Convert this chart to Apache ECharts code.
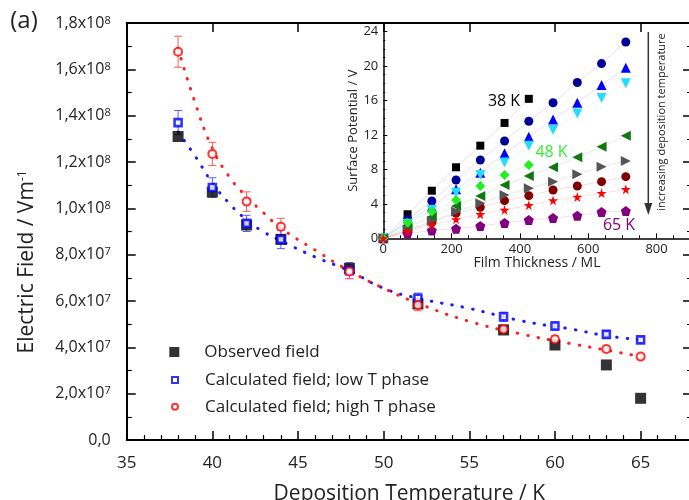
<!DOCTYPE html>
<html><head><meta charset="utf-8">
<script src="https://cdn.jsdelivr.net/npm/echarts@6/dist/echarts.min.js"></script>
<style>html,body{margin:0;padding:0;background:#fff}#c{width:689px;height:500px}</style>
</head><body><div id="c"></div>
<script>
// ---- main panel data ----
const temps = [38, 40, 42, 44, 48, 52, 57, 60, 63, 65];
const observed = [1.31e8, 1.07e8, 9.28e7, 8.66e7, 7.41e7, 5.87e7, 4.75e7, 4.10e7, 3.24e7, 1.80e7];
const lowT = [1.37e8, 1.09e8, 9.35e7, 8.66e7, 7.31e7, 6.12e7, 5.32e7, 4.92e7, 4.56e7, 4.32e7];
const lowTErr = [5.2e6, 4.2e6, 3.5e6, 4.0e6, 3.5e6, 2.2e6, 2.0e6, 1.8e6, 1.6e6, 1.3e6];
const highT = [1.676e8, 1.235e8, 1.029e8, 9.21e7, 7.27e7, 5.83e7, 4.78e7, 4.35e7, 3.93e7, 3.60e7];
const highTErr = [6.7e6, 5.0e6, 4.2e6, 3.6e6, 3.0e6, 2.5e6, 1.8e6, 1.5e6, 1.2e6, 1.0e6];
const fitT = [38, 39, 40, 41, 42, 43, 44, 46, 48, 50, 52, 55, 58, 61, 63, 65];
const lowTFit = [1.33e8, 1.225e8, 1.11e8, 1.02e8, 9.5e7, 8.98e7, 8.6e7, 7.9e7, 7.3e7, 6.55e7, 6.12e7, 5.68e7, 5.15e7, 4.78e7, 4.5e7, 4.32e7];
const highTFit = [1.69e8, 1.455e8, 1.26e8, 1.135e8, 1.05e8, 9.8e7, 9.15e7, 8.2e7, 7.3e7, 6.55e7, 5.9e7, 5.12e7, 4.58e7, 4.15e7, 3.88e7, 3.6e7];
const legendNames = ['Observed field', 'Calculated field; low T phase', 'Calculated field; high T phase'];

// ---- inset data ----
const thickness = [0, 71, 142, 213, 284, 355, 426, 497, 568, 639, 710];
const insetNames = ['38 K', '40 K', '42 K', '44 K', '48 K', '52 K', '57 K', '60 K', '63 K', '65 K'];
const v38 = [0, 2.79, 5.53, 8.25, 10.76, 13.4, 16.2];
const v40 = [0, 2.2, 4.33, 6.77, 9.1, 11.3, 13.6, 15.75, 18.1, 20.3, 22.8];
const v42 = [0, 1.9, 3.67, 5.69, 7.62, 9.87, 11.8, 13.8, 15.75, 17.8, 19.8];
const v44 = [0, 1.7, 3.3, 5.3, 7.35, 8.8, 10.76, 12.58, 14.5, 16.3, 18.0];
const v48 = [0, 1.8, 3.1, 4.45, 6.08, 7.35, 8.52];
const v52 = [0, 1.3, 2.5, 3.75, 4.9, 6.19, 7.24, 8.25, 9.41, 10.64, 11.92];
const v57 = [0, 1.0, 2.0, 3.1, 4.06, 5.03, 5.8, 6.58, 7.43, 8.32, 8.98];
const v60 = [0, 0.9, 1.85, 2.9, 3.6, 4.37, 4.95, 5.61, 6.08, 6.58, 7.16];
const v63 = [0, 0.8, 1.6, 2.2, 2.8, 3.3, 3.85, 4.4, 4.8, 5.25, 5.7];
const v65 = [0, 0.55, 0.92, 1.12, 1.43, 1.78, 2.13, 2.36, 2.63, 3.06, 3.17];
const insetValues = [v38, v40, v42, v44, v48, v52, v57, v60, v63, v65];
const insetLabels = ['38 K', '48 K', '65 K'];

const FONT = '"Open Sans", "DejaVu Sans", sans-serif';
const TXT = '#222';
const STAR = 'path://M50,0 L61,35 L98,35 L68,57 L79,91 L50,70 L21,91 L32,57 L2,35 L39,35 Z';
const PENT = 'path://M50,0 L98,36 L80,95 L20,95 L2,36 Z';
const insetStyles = [
  {c: '#000000', s: 'rect', z: 8, r: 0},
  {c: '#000096', s: 'circle', z: 9, r: 0},
  {c: '#0000ff', s: 'triangle', z: 10, r: 0},
  {c: '#22ddff', s: 'triangle', z: 10, r: 180},
  {c: '#22ee22', s: 'diamond', z: 11, r: 0},
  {c: '#117711', s: 'triangle', z: 10, r: 90},
  {c: '#555555', s: 'triangle', z: 10, r: -90},
  {c: '#800000', s: 'circle', z: 9, r: 0},
  {c: '#ff0000', s: STAR, z: 11, r: 0},
  {c: '#800080', s: PENT, z: 10, r: 0}
];

const fmtY = v => {
  if (v === 0) return '0,0';
  const e = Math.floor(Math.log10(v) + 1e-9);
  const m = v / Math.pow(10, e);
  return m.toFixed(1).replace('.', ',') + 'x10{sup|' + e + '}';
};

function errSeries(vals, errs, color) {
  return {
    type: 'custom', xAxisIndex: 0, yAxisIndex: 0, silent: true, z: 3,
    data: temps.map((t, i) => [t, vals[i] - errs[i], vals[i] + errs[i]]),
    renderItem(params, api) {
      const x = api.value(0);
      const lo = api.coord([x, api.value(1)]);
      const hi = api.coord([x, api.value(2)]);
      const w = 4;
      const st = {stroke: color, lineWidth: 1, fill: null};
      return {type: 'group', children: [
        {type: 'line', shape: {x1: lo[0], y1: lo[1], x2: hi[0], y2: hi[1]}, style: st},
        {type: 'line', shape: {x1: lo[0] - w, y1: lo[1], x2: lo[0] + w, y2: lo[1]}, style: st},
        {type: 'line', shape: {x1: hi[0] - w, y1: hi[1], x2: hi[0] + w, y2: hi[1]}, style: st}
      ]};
    }
  };
}

const mainAxisLine = {show: true, onZero: false, lineStyle: {color: '#000', width: 2}};
const series = [
  {type: 'line', xAxisIndex: 0, yAxisIndex: 0, data: fitT.map((t, i) => [t, lowTFit[i]]), smooth: true, showSymbol: false, silent: true, z: 2,
   lineStyle: {color: '#1a1aff', width: 3, type: [0.5, 10], cap: 'round'}},
  {type: 'line', xAxisIndex: 0, yAxisIndex: 0, data: fitT.map((t, i) => [t, highTFit[i]]), smooth: true, showSymbol: false, silent: true, z: 2,
   lineStyle: {color: '#ff2020', width: 3, type: [0.5, 10], cap: 'round'}},
  errSeries(lowT, lowTErr, '#5a5aff'),
  errSeries(highT, highTErr, '#ff5a5a'),
  {name: legendNames[0], type: 'scatter', xAxisIndex: 0, yAxisIndex: 0, data: temps.map((t, i) => [t, observed[i]]),
   symbol: 'rect', symbolSize: 11, itemStyle: {color: '#000'}, z: 4},
  {name: legendNames[1], type: 'scatter', xAxisIndex: 0, yAxisIndex: 0, data: temps.map((t, i) => [t, lowT[i]]),
   symbol: 'rect', symbolSize: 7, itemStyle: {color: '#fff', borderColor: '#0000ff', borderWidth: 2.6}, z: 5},
  {name: legendNames[2], type: 'scatter', xAxisIndex: 0, yAxisIndex: 0, data: temps.map((t, i) => [t, highT[i]]),
   symbol: 'circle', symbolSize: 8, itemStyle: {color: '#fff', borderColor: '#ff0000', borderWidth: 2}, z: 6}
];
insetValues.forEach((vals, k) => {
  const st = insetStyles[k];
  series.push({
    name: insetNames[k], type: 'line', xAxisIndex: 2, yAxisIndex: 2, z: st.z,
    data: vals.map((v, i) => [thickness[i], v]),
    symbol: st.s, symbolRotate: st.r, symbolSize: st.s === 'rect' ? 8 : (st.s === 'circle' ? 9 : 10),
    showSymbol: true, showAllSymbol: true,
    itemStyle: {color: st.c},
    lineStyle: {color: st.c, width: 1, opacity: 0.12}
  });
});

const legendCommon = {orient: 'vertical', selectedMode: false, textStyle: {fontFamily: FONT, fontSize: 17, color: TXT, lineHeight: 20}};

const option = {
  animation: false,
  backgroundColor: '#fff',
  textStyle: {fontFamily: FONT},
  grid: [
    {left: 126.7, top: 23, width: 565.3, height: 417, outerBoundsMode: 'none', containLabel: false},
    {left: 383.3, top: 23.1, width: 307.4, height: 215.2, outerBoundsMode: 'none', containLabel: false}
  ],
  legend: [
    Object.assign({}, legendCommon, {left: 164.3, top: 337, itemWidth: 10, itemHeight: 10,
      data: [{name: legendNames[0], icon: 'rect', itemStyle: {color: '#000'}}],
      textStyle: Object.assign({}, legendCommon.textStyle, {padding: [0, 0, 0, 20]})}),
    Object.assign({}, legendCommon, {left: 166, top: 365, itemWidth: 6, itemHeight: 6,
      data: [{name: legendNames[1], icon: 'rect', itemStyle: {color: '#fff', borderColor: '#0000ff', borderWidth: 2}}],
      textStyle: Object.assign({}, legendCommon.textStyle, {padding: [0, 0, 0, 22]})}),
    Object.assign({}, legendCommon, {left: 166, top: 391.7, itemWidth: 6, itemHeight: 6,
      data: [{name: legendNames[2], icon: 'circle', itemStyle: {color: '#fff', borderColor: '#ff0000', borderWidth: 2}}],
      textStyle: Object.assign({}, legendCommon.textStyle, {padding: [0, 0, 0, 22]})})
  ],
  xAxis: [
    {type: 'value', gridIndex: 0, min: 35, max: 68, interval: 5, position: 'bottom',
     axisLine: mainAxisLine, splitLine: {show: false},
     axisTick: {inside: true, length: 9, lineStyle: {color: '#000', width: 1.5}},
     minorTick: {show: true, splitNumber: 5, length: 5, lineStyle: {color: '#000', width: 1.2}},
     axisLabel: {fontSize: 17, color: TXT, margin: 15, fontFamily: FONT, showMaxLabel: false},
     name: 'Deposition Temperature / K', nameLocation: 'middle', nameGap: 44,
     nameTextStyle: {fontSize: 21, color: TXT, fontFamily: FONT}},
    {type: 'value', gridIndex: 0, min: 35, max: 68, interval: 5, position: 'top',
     axisLine: mainAxisLine, splitLine: {show: false},
     axisTick: {inside: true, length: 9, lineStyle: {color: '#000', width: 1.5}},
     axisLabel: {show: false}},
    {type: 'value', gridIndex: 1, min: 0, max: 900, interval: 200, position: 'bottom',
     axisLine: {show: true, onZero: false, lineStyle: {color: '#000', width: 1.5}}, splitLine: {show: false},
     axisTick: {inside: true, length: 5, lineStyle: {color: '#000', width: 1}},
     minorTick: {show: true, splitNumber: 4, length: 3, lineStyle: {color: '#000', width: 1}},
     axisLabel: {fontSize: 13, color: TXT, margin: 4, fontFamily: FONT, showMaxLabel: false},
     name: 'Film Thickness / ML', nameLocation: 'middle', nameGap: 17,
     nameTextStyle: {fontSize: 14, color: TXT, fontFamily: FONT}}
  ],
  yAxis: [
    {type: 'value', gridIndex: 0, min: 0, max: 1.8e8, interval: 2e7, position: 'left',
     axisLine: mainAxisLine, splitLine: {show: false},
     axisTick: {inside: true, length: 9, lineStyle: {color: '#000', width: 1.5}},
     minorTick: {show: true, splitNumber: 2, length: 5, lineStyle: {color: '#000', width: 1.2}},
     axisLabel: {fontSize: 16, color: TXT, margin: 16, fontFamily: FONT, formatter: fmtY,
       rich: {sup: {fontSize: 11, verticalAlign: 'top', color: TXT, fontFamily: FONT}}}},
    {type: 'value', gridIndex: 0, min: 0, max: 1.8e8, interval: 2e7, position: 'right',
     axisLine: mainAxisLine, splitLine: {show: false},
     axisTick: {inside: true, length: 9, lineStyle: {color: '#000', width: 1.5}},
     minorTick: {show: true, splitNumber: 2, length: 5, lineStyle: {color: '#000', width: 1.2}},
     axisLabel: {show: false}},
    {type: 'value', gridIndex: 1, min: 0, max: 25, interval: 4, position: 'left',
     axisLine: {show: true, onZero: false, lineStyle: {color: '#000', width: 1.5}}, splitLine: {show: false},
     axisTick: {inside: true, length: 4, lineStyle: {color: '#000', width: 1}},
     minorTick: {show: true, splitNumber: 4, length: 2, lineStyle: {color: '#000', width: 1}},
     axisLabel: {fontSize: 13, color: TXT, margin: 5, fontFamily: FONT, showMaxLabel: false},
     name: 'Surface Potential / V', nameLocation: 'middle', nameGap: 20,
     nameTextStyle: {fontSize: 13, color: TXT, fontFamily: FONT}}
  ],
  graphic: [
    {type: 'text', x: 24, y: 21, style: {text: '(a)', font: '24px "Open Sans"', fill: TXT, align: 'center', verticalAlign: 'middle'}},
    {type: 'text', x: 27, y: 262, rotation: Math.PI / 2,
     style: {text: 'Electric Field / Vm{sup|-1}', font: '21px "Open Sans"', fill: TXT, align: 'center', verticalAlign: 'middle',
       rich: {sup: {fontSize: 12, verticalAlign: 'top', fill: TXT, fontFamily: FONT}}}},
    {type: 'text', x: 504, y: 101, z: 20, style: {text: insetLabels[0], font: '16px "Open Sans"', fill: '#000', align: 'center', verticalAlign: 'middle'}},
    {type: 'text', x: 551.5, y: 152.5, z: 20, style: {text: insetLabels[1], font: '16px "Open Sans"', fill: '#33ee33', align: 'center', verticalAlign: 'middle'}},
    {type: 'text', x: 619, y: 225, z: 20, style: {text: insetLabels[2], font: '16px "Open Sans"', fill: '#800080', align: 'center', verticalAlign: 'middle'}},
    {type: 'line', z: 20, shape: {x1: 648.3, y1: 32, x2: 648.3, y2: 206}, style: {stroke: '#333', lineWidth: 1.5}},
    {type: 'polygon', z: 20, shape: {points: [[644.3, 203], [652.3, 203], [648.3, 215]]}, style: {fill: '#333'}},
    {type: 'text', x: 661.7, y: 122, z: 20, rotation: Math.PI / 2,
     style: {text: 'increasing deposition temperature', font: '11px "Open Sans"', fill: TXT, align: 'center', verticalAlign: 'middle'}}
  ],
  series: series
};
const chart = echarts.init(document.getElementById('c'), null, {renderer: 'canvas'});
chart.setOption(option);
</script></body></html>
